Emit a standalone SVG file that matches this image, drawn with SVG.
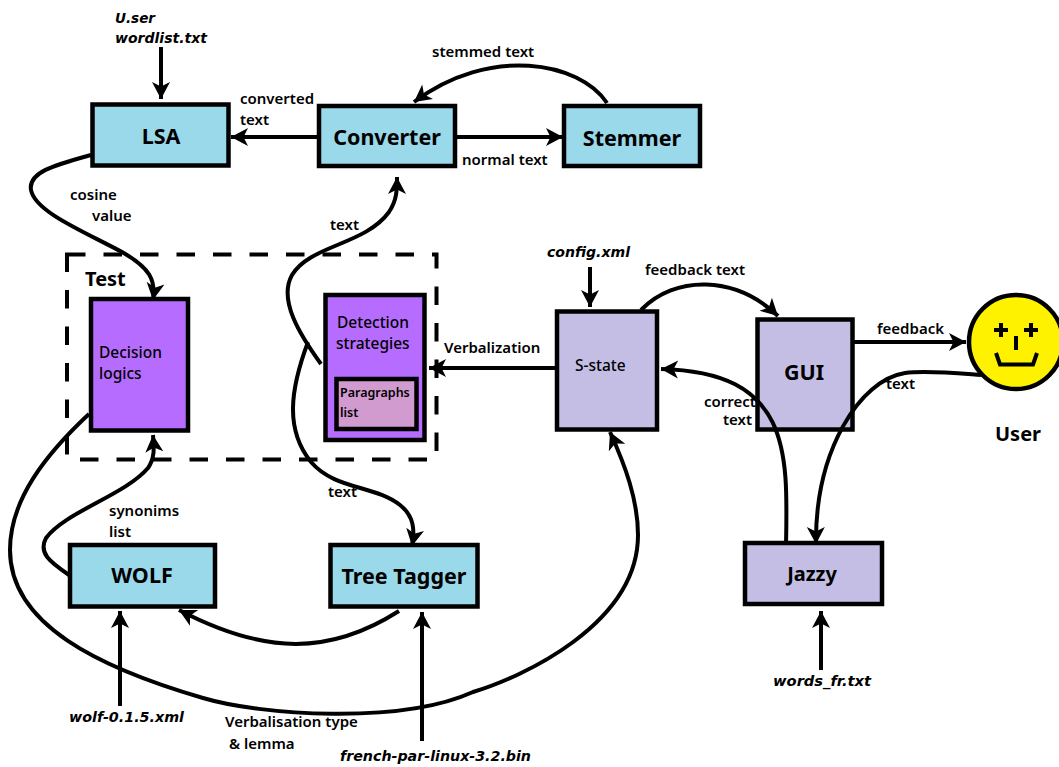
<svg xmlns="http://www.w3.org/2000/svg" width="1059" height="767" viewBox="0 0 1059 767">
<style>
text{font-family:"Noto Sans","DejaVu Sans",sans-serif;fill:#000}
.box{stroke:#000;stroke-width:4.5}
.blue{fill:#99d9ea}.purple{fill:#b66dff}.lilac{fill:#c5bee4}.pink{fill:#d19bd0}
.t{font-size:21.500px;font-weight:700;text-anchor:middle}
.l{font-size:15px;font-weight:600}
.s{font-size:15.500px;font-weight:500}
.f{font-family:"DejaVu Sans",sans-serif;font-size:14px;font-weight:700;font-style:italic}
.c{fill:none;stroke:#000;stroke-width:4;marker-end:url(#a)}
.n{fill:none;stroke:#000;stroke-width:4}
</style>
<defs>
<marker id="a" markerUnits="userSpaceOnUse" markerWidth="24" markerHeight="24" viewBox="-20 -12 24 24" refX="0" refY="0" orient="auto" overflow="visible"><path d="M0,0L-17,-9L-12.500,0L-17,9Z" fill="#000"/></marker>
</defs>
<rect id="test-frame" x="67" y="254.500" width="369.500" height="205" fill="none" stroke="#000" stroke-width="4" stroke-dasharray="18.500 18"/>
<g id="lsa"><rect class="box blue" x="92.500" y="104.500" width="136" height="61"/><text class="t" x="161" y="144">LSA</text></g>
<g id="converter"><rect class="box blue" x="319" y="106" width="136" height="60"/><text class="t" x="387" y="145">Converter</text></g>
<g id="stemmer"><rect class="box blue" x="564" y="106" width="136" height="60"/><text class="t" x="632" y="146">Stemmer</text></g>
<g id="decision"><rect class="box purple" x="91" y="299" width="97" height="131.500"/><text class="s" x="99" y="358">Decision</text><text class="s" x="99" y="379">logics</text></g>
<g id="detection"><rect class="box purple" x="325.500" y="295" width="99" height="145"/><text class="s" x="337" y="328">Detection</text><text class="s" x="336" y="349">strategies</text>
<rect class="box pink" x="336.500" y="379" width="80" height="50"/><text x="340" y="397" font-size="12.500" font-weight="600">Paragraphs</text><text x="340" y="417" font-size="12.500" font-weight="600">list</text></g>
<g id="s-state"><rect class="box lilac" x="557" y="311.500" width="100" height="118"/><text x="575" y="371" font-size="15.500" font-weight="500">S-state</text></g>
<g id="gui"><rect class="box lilac" x="757.500" y="319.500" width="95" height="110"/><text class="t" x="804" y="380">GUI</text></g>
<g id="jazzy"><rect class="box lilac" x="745" y="543" width="137" height="61"/><text x="812" y="581" font-size="20" font-weight="700" text-anchor="middle">Jazzy</text></g>
<g id="wolf"><rect class="box blue" x="70" y="545" width="145" height="61.500"/><text class="t" x="142" y="583">WOLF</text></g>
<g id="tree-tagger"><rect class="box blue" x="330.500" y="545" width="147" height="61.500"/><text class="t" x="404" y="584">Tree Tagger</text></g>
<g id="user"><circle cx="1016" cy="342" r="47" fill="#fff200" stroke="#000" stroke-width="4.500"/>
<path class="n" d="M994,330H1008M1001,323V337M1024,330H1038M1031,323V337M1016,336V350M996,353L1000,364.500H1033L1037,353" stroke-width="3.500"/>
<text x="1018" y="441" font-size="20" font-weight="700" text-anchor="middle">User</text></g>
<g id="test-label"><text x="85" y="286" font-size="20" font-weight="700">Test</text></g>
<g id="connectors">
<path class="c" d="M161,47V99"/>
<path class="c" d="M318,137H231"/>
<path class="c" d="M457,137H563"/>
<path class="c" d="M607,103C580,62 490,45 414,102"/>
<path class="c" d="M91,155C55,165 28,172 31,190C35,212 85,232 122,252C150,268 156,280 153,300"/>
<path class="c" d="M321,364C300,335 278,300 292,275C310,245 365,245 389,212C397,200 397,190 397,177"/>
<path class="c" d="M308,342C290,390 285,430 311,462C335,490 375,485 400,505C414,516 415,530 412,546"/>
<path class="c" d="M69,575C50,562 38,553 46,538C65,512 125,495 148,468C155,458 154,448 153,435"/>
<path class="c" d="M89,414C45,455 10,500 10,550C10,625 100,668 203,698C260,715 400,725 473,692C520,678 638,625 638,535C638,500 625,465 610,432"/>
<path class="c" d="M399,611C330,655 265,655 179,610"/>
<path class="c" d="M120,706V611"/>
<path class="c" d="M422,741V612"/>
<path class="c" d="M556,368H429"/>
<path class="c" d="M590,267V307"/>
<path class="c" d="M641,310C675,275 735,275 778,316"/>
<path class="c" d="M854,342H966"/>
<path class="c" d="M981,375C955,373 925,370 905,373C860,380 815,450 816,544"/>
<path class="c" d="M786,545C788,450 790,372 661,369"/>
<path class="c" d="M821,670V611"/>
</g>
<g id="labels">
<text class="f" x="115" y="23" textLength="40" lengthAdjust="spacingAndGlyphs">U.ser</text>
<text class="f" x="115" y="43" textLength="92" lengthAdjust="spacingAndGlyphs">wordlist.txt</text>
<text class="l" x="432" y="57">stemmed text</text>
<text class="l" x="240" y="104">converted</text>
<text class="l" x="240" y="125">text</text>
<text class="l" x="462" y="165">normal text</text>
<text class="l" x="70" y="200">cosine</text>
<text class="l" x="92" y="221">value</text>
<text class="l" x="330" y="230">text</text>
<text class="l" x="444" y="353">Verbalization</text>
<text class="f" x="547" y="257" textLength="83" lengthAdjust="spacingAndGlyphs">config.xml</text>
<text class="l" x="645" y="275">feedback text</text>
<text class="l" x="877" y="334">feedback</text>
<text class="l" x="886" y="389">text</text>
<text class="l" x="704" y="407">correct</text>
<text class="l" x="723" y="425">text</text>
<text class="l" x="109" y="516">synonims</text>
<text class="l" x="109" y="537">list</text>
<text class="l" x="328" y="497">text</text>
<text class="f" x="69" y="722" textLength="115" lengthAdjust="spacingAndGlyphs">wolf-0.1.5.xml</text>
<text class="l" x="225" y="727">Verbalisation type</text>
<text class="l" x="229" y="749">&amp; lemma</text>
<text class="f" x="340" y="761" textLength="191" lengthAdjust="spacingAndGlyphs">french-par-linux-3.2.bin</text>
<text class="f" x="773" y="686" textLength="98" lengthAdjust="spacingAndGlyphs">words_fr.txt</text>
</g>
</svg>
